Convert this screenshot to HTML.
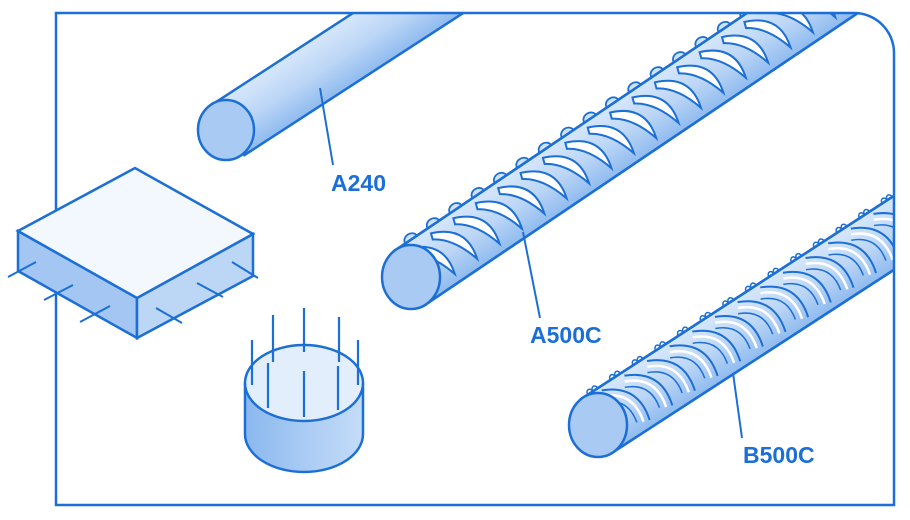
<!DOCTYPE html>
<html><head><meta charset="utf-8"><style>
html,body{margin:0;padding:0;background:#fff;width:910px;height:520px;overflow:hidden}
svg{display:block}
text{font-family:"Liberation Sans",sans-serif;font-weight:bold;font-size:23px;fill:#1b6fd6}
</style></head><body>
<svg width="910" height="520" viewBox="0 0 910 520" xmlns="http://www.w3.org/2000/svg">
<defs>
<clipPath id="fr"><path d="M56,13 H854 A40,40 0 0 1 894,53 V505 H56 Z"/></clipPath>
<linearGradient id="rod" x1="0" y1="0" x2="0" y2="1">
<stop offset="0" stop-color="#d6e7fb"/><stop offset="0.5" stop-color="#bcd6f6"/><stop offset="1" stop-color="#8fbbef"/></linearGradient>
<linearGradient id="cyl" x1="0" y1="0" x2="1" y2="0">
<stop offset="0" stop-color="#8ab8ee"/><stop offset="0.5" stop-color="#a9cbf3"/><stop offset="1" stop-color="#c4dcf8"/></linearGradient>
<g id="rib">
<path d="M0,-25 Q34,-12 24,22 Q16,-8 -2,-19 Z" fill="#fff" stroke="#1b6fd6" stroke-width="2"/>
</g>
<g id="rib2">
<path d="M0,-27 Q34,-12 24,24" fill="none" stroke="#1b6fd6" stroke-width="2"/>
<path d="M-3,-22 Q26,-10 18,22" fill="none" stroke="#fff" stroke-width="2.5"/>
<path d="M-6,-17 Q18,-7 12,19" fill="none" stroke="#1b6fd6" stroke-width="1.5"/>
</g>
</defs>
<g stroke="#1b6fd6" stroke-width="2.5" fill="none">
<g clip-path="url(#fr)">
<!-- A240 -->
<g transform="translate(228,130) rotate(-33)">
<rect x="0" y="-30" width="900" height="60" fill="url(#rod)" stroke="#1b6fd6"/>
</g>
<ellipse cx="226" cy="130" rx="28" ry="30" fill="#a9cbf3"/>
<!-- A500C -->
<g transform="translate(411,277) rotate(-34)">
<rect x="0" y="-31" width="900" height="62" fill="url(#rod)"/>
<g stroke-width="1.8" fill="#cfe2fa">
<path d="M14,-31 a7,6 0 0 1 14,0 M41,-31 a7,6 0 0 1 14,0 M68,-31 a7,6 0 0 1 14,0 M95,-31 a7,6 0 0 1 14,0 M122,-31 a7,6 0 0 1 14,0 M149,-31 a7,6 0 0 1 14,0 M176,-31 a7,6 0 0 1 14,0 M203,-31 a7,6 0 0 1 14,0 M230,-31 a7,6 0 0 1 14,0 M257,-31 a7,6 0 0 1 14,0 M284,-31 a7,6 0 0 1 14,0 M311,-31 a7,6 0 0 1 14,0 M338,-31 a7,6 0 0 1 14,0 M365,-31 a7,6 0 0 1 14,0 M392,-31 a7,6 0 0 1 14,0 M419,-31 a7,6 0 0 1 14,0 M446,-31 a7,6 0 0 1 14,0 M473,-31 a7,6 0 0 1 14,0"/>
</g>
<use href="#rib" x="14"/><use href="#rib" x="41"/><use href="#rib" x="68"/><use href="#rib" x="95"/><use href="#rib" x="122"/><use href="#rib" x="149"/><use href="#rib" x="176"/><use href="#rib" x="203"/><use href="#rib" x="230"/><use href="#rib" x="257"/><use href="#rib" x="284"/><use href="#rib" x="311"/><use href="#rib" x="338"/><use href="#rib" x="365"/><use href="#rib" x="392"/><use href="#rib" x="419"/><use href="#rib" x="446"/><use href="#rib" x="473"/>
<line x1="0" y1="-31" x2="900" y2="-31"/><line x1="0" y1="31" x2="900" y2="31"/>
</g>
<ellipse cx="411" cy="277" rx="29" ry="32" fill="#a9cbf3"/>
<!-- B500C -->
<g transform="translate(598,425) rotate(-33)">
<rect x="0" y="-31" width="900" height="62" fill="url(#rod)"/>
<g stroke-width="1.5">
<path d="M8,-31 a3,4 0 0 1 6,0 a3,4 0 0 1 6,0 M35,-31 a3,4 0 0 1 6,0 a3,4 0 0 1 6,0 M62,-31 a3,4 0 0 1 6,0 a3,4 0 0 1 6,0 M89,-31 a3,4 0 0 1 6,0 a3,4 0 0 1 6,0 M116,-31 a3,4 0 0 1 6,0 a3,4 0 0 1 6,0 M143,-31 a3,4 0 0 1 6,0 a3,4 0 0 1 6,0 M170,-31 a3,4 0 0 1 6,0 a3,4 0 0 1 6,0 M197,-31 a3,4 0 0 1 6,0 a3,4 0 0 1 6,0 M224,-31 a3,4 0 0 1 6,0 a3,4 0 0 1 6,0 M251,-31 a3,4 0 0 1 6,0 a3,4 0 0 1 6,0 M278,-31 a3,4 0 0 1 6,0 a3,4 0 0 1 6,0 M305,-31 a3,4 0 0 1 6,0 a3,4 0 0 1 6,0 M332,-31 a3,4 0 0 1 6,0 a3,4 0 0 1 6,0 M359,-31 a3,4 0 0 1 6,0 a3,4 0 0 1 6,0"/>
</g>
<use href="#rib2" x="22"/><use href="#rib2" x="49"/><use href="#rib2" x="76"/><use href="#rib2" x="103"/><use href="#rib2" x="130"/><use href="#rib2" x="157"/><use href="#rib2" x="184"/><use href="#rib2" x="211"/><use href="#rib2" x="238"/><use href="#rib2" x="265"/><use href="#rib2" x="292"/><use href="#rib2" x="319"/><use href="#rib2" x="346"/>
<line x1="0" y1="-31" x2="900" y2="-31"/><line x1="0" y1="31" x2="900" y2="31"/>
</g>
<ellipse cx="598" cy="425" rx="29" ry="32" fill="#a9cbf3"/>
</g>
<!-- frame -->
<path d="M56,13 H854 A40,40 0 0 1 894,53 V505 H56 Z"/>
<!-- box -->
<polygon points="18,231 137,298 137,338 18,271" fill="#a3c6f2"/>
<polygon points="137,298 253,234 253,276 137,338" fill="#bcd6f6"/>
<polygon points="18,231 135,168 253,234 137,298" fill="#f3f8fe"/>
<g stroke-width="2">
<path d="M8,277 L36,262 M44,300 L73,285 M80,322 L110,306 M156,308 L182,323 M197,283 L223,297 M232,262 L258,278"/>
</g>
<!-- cylinder -->
<path d="M245,383 V434 A59,38 0 0 0 363,434 V383" fill="url(#cyl)"/>
<ellipse cx="304" cy="383" rx="59" ry="38" fill="#e2eefc"/>
<g stroke-width="2.2">
<path d="M252,340 V385 M273,315 V362 M304,308 V352 M339,317 V362 M358,340 V385 M268,363 V408 M304,371 V417 M338,366 V410"/>
</g>
<!-- leaders -->
<g stroke-width="2">
<path d="M320,88 L333,165 M523,232 L540,318 M733,373 L742,438"/>
</g>
</g>
<text x="331" y="191">A240</text>
<text x="530" y="343">A500C</text>
<text x="743" y="463">B500C</text>
</svg>
</body></html>
